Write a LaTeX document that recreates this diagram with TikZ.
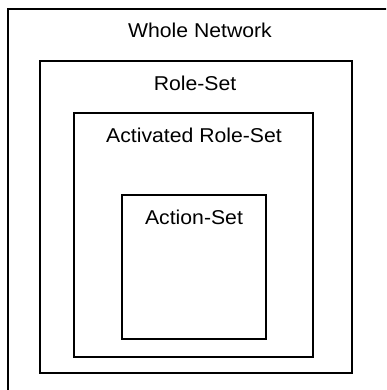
\documentclass[tikz,border=0pt]{standalone}
\usepackage{fontspec}
\setmainfont{Liberation Sans}[FakeStretch=1.06]
\usepackage{tikz}

\begin{document}
\begin{tikzpicture}[x=1pt, y=-1pt,
    setbox/.style={draw, line width=1.6pt},
    setlabel/.style={anchor=base, inner sep=0pt, font=\fontsize{20}{24}\selectfont}]

    \useasboundingbox (0,0) rectangle (386,390);
    \clip (0,0) rectangle (386,390);

    % Boxes
    \draw[setbox] (8,9) rectangle (400,400);
    \draw[setbox] (40,61) rectangle (352,373);
    \draw[setbox] (74,113) rectangle (313,357);
    \draw[setbox] (122,195) rectangle (266,339);

    % Labels
    \node[setlabel] (whole) at (200,38) {Whole Network};
    \node[setlabel] (role) at (195,91) {Role-Set};
    \node[setlabel] (activated) at (194,142.3) {Activated Role-Set};
    \node[setlabel] (action) at (194,224.3) {Action-Set};
\end{tikzpicture}
\end{document}
